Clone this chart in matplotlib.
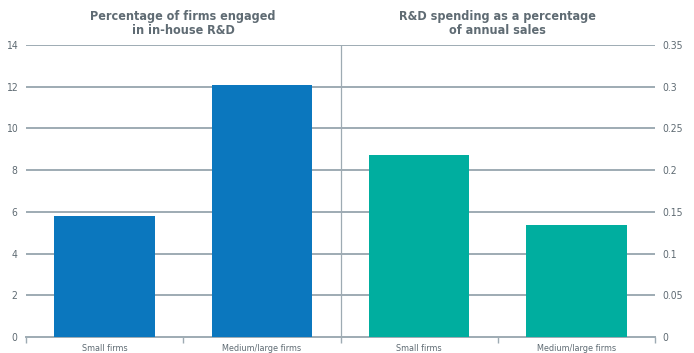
import matplotlib.pyplot as plt

plt.rcParams["font.family"] = ["DejaVu Sans"]
plt.rcParams["font.stretch"] = "condensed"

categories = ["Small firms", "Medium/large firms", "Small firms", "Medium/large firms"]
pct_firms = [5.8, 12.1]          # left axis, %
rd_share = [0.218, 0.134]        # right axis
left_ticks = [0, 2, 4, 6, 8, 10, 12, 14]
right_ticks = [0, 0.05, 0.1, 0.15, 0.2, 0.25, 0.3, 0.35]
right_labels = ["0", "0.05", "0.1", "0.15", "0.2", "0.25", "0.3", "0.35"]
titles = ["Percentage of firms engaged\nin in-house R&D",
          "R&D spending as a percentage\nof annual sales"]

grid_c = "#9eabb3"
text_c = "#5f6b73"

fig = plt.figure(figsize=(6.94, 3.53), dpi=100)
ax = fig.add_axes([26 / 694, 16 / 353, 629 / 694, 292 / 353])
ax2 = ax.twinx()

xs = [0.5, 1.5, 2.5, 3.5]
ax.bar(xs[:2], pct_firms, width=0.64, color="#0b77be", zorder=3)
ax2.bar(xs[2:], rd_share, width=0.64, color="#00ae9f", zorder=3)

ax.set_xlim(0, 4)
ax.set_ylim(0, 14)
ax2.set_ylim(0, 0.35)
ax.set_yticks(left_ticks)
ax.set_yticklabels([str(t) for t in left_ticks])
ax2.set_yticks(right_ticks)
ax2.set_yticklabels(right_labels)

for t in left_ticks[1:]:
    ax.axhline(t, color=grid_c, lw=1.4, zorder=1)
ax.axvline(2, color=grid_c, lw=0.9, zorder=2)

for a in (ax, ax2):
    for s in a.spines.values():
        s.set_visible(False)
    a.tick_params(axis="y", length=0, labelsize=7.5, colors=text_c)
ax.tick_params(axis="y", pad=6)
ax2.tick_params(axis="y", pad=5)

ax.spines["bottom"].set_visible(True)
ax.spines["bottom"].set_color(grid_c)
ax.spines["bottom"].set_linewidth(1.4)
ax.set_xticks([0, 1, 2, 3, 4], minor=False)
ax.set_xticklabels([])
ax.tick_params(axis="x", length=4, width=1, color=grid_c, direction="out")
ax.set_xticks(xs, minor=True)
ax.set_xticklabels(categories, minor=True)
ax.tick_params(axis="x", which="minor", length=0, labelsize=6.5, colors=text_c, pad=5)

ax.text(1, 14.4, titles[0], ha="center", va="bottom", fontsize=9,
        fontweight="bold", color=text_c, linespacing=1.1)
ax.text(3, 14.4, titles[1], ha="center", va="bottom", fontsize=9,
        fontweight="bold", color=text_c, linespacing=1.1)

fig.savefig("out.png", dpi=100)
